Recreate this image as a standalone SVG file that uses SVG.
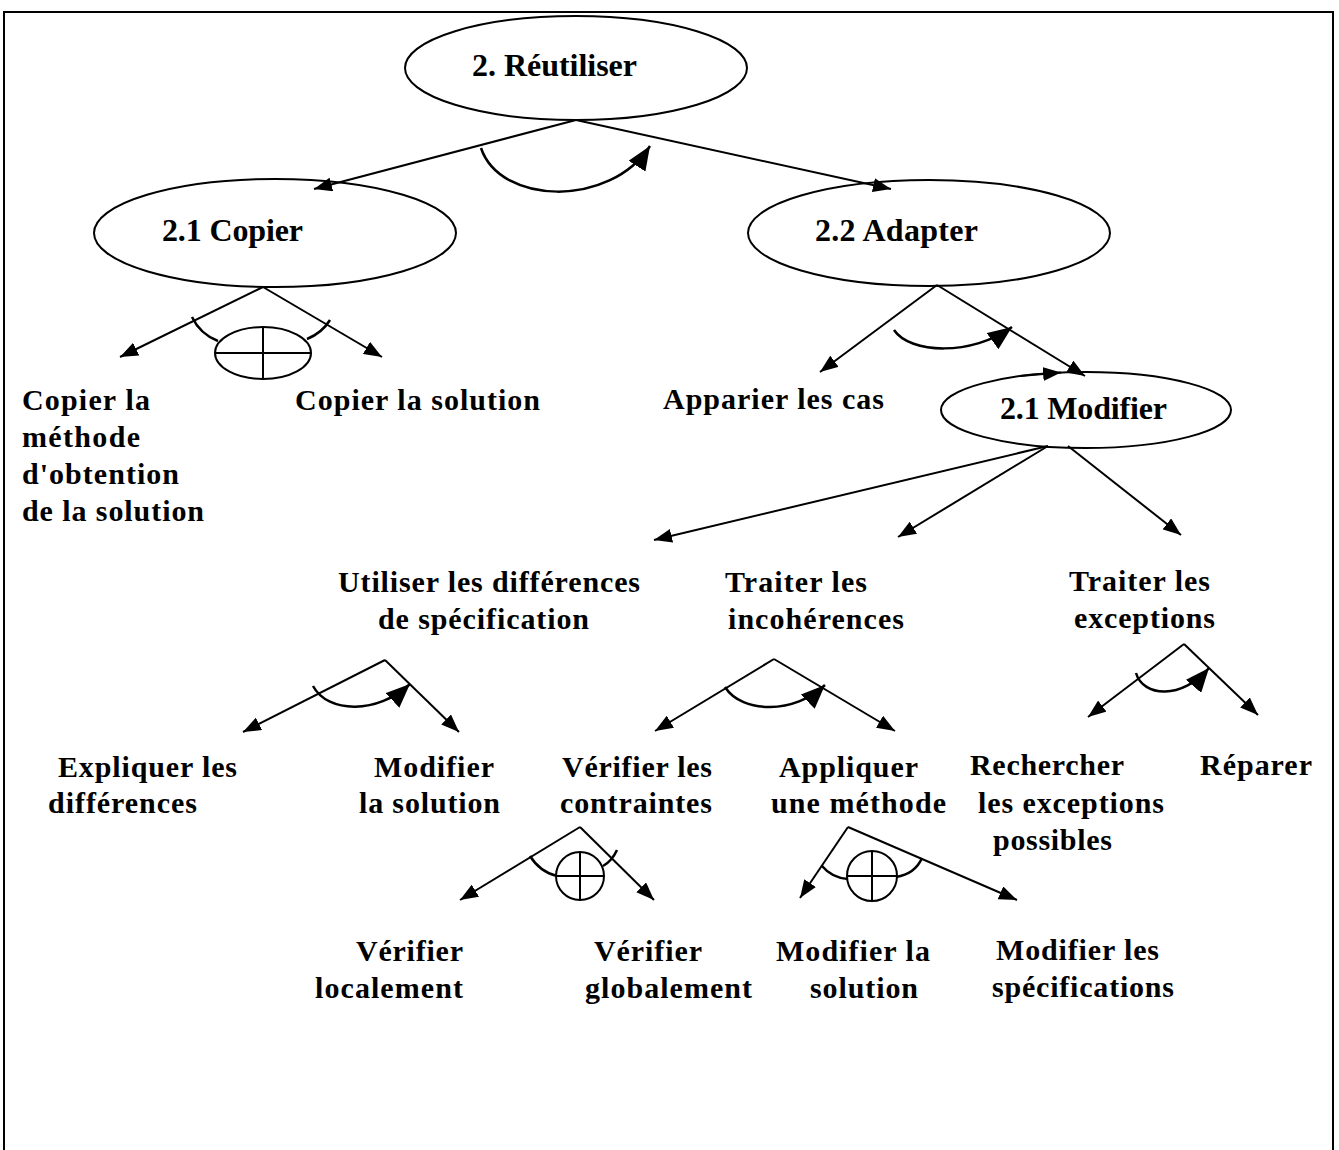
<svg xmlns="http://www.w3.org/2000/svg" width="1339" height="1150" viewBox="0 0 1339 1150">
  <style>
    .frame { fill: none; stroke: #000; stroke-width: 2; }
    .node { fill: #fff; stroke: #000; stroke-width: 2; }
    .lbl { font-family: "Liberation Serif", "Times New Roman", serif; font-weight: bold; font-size: 30px; fill: #000; }
    .big { font-size: 32px; }
    .edge { fill: none; stroke: #000; stroke-width: 2; marker-end: url(#tip); }
    .turn { fill: none; stroke: #000; stroke-width: 2.5; marker-end: url(#bigtip); }
    .arc { fill: none; stroke: #000; stroke-width: 2.5; }
    .xor { fill: #fff; stroke: #000; stroke-width: 2; }
    .xline { stroke: #000; stroke-width: 2; }
  </style>
  <defs>
    <marker id="tip" markerUnits="userSpaceOnUse" markerWidth="20" markerHeight="14" refX="18" refY="7" orient="auto">
      <path d="M0,0 L18,7 L0,14 Z" fill="#000"/>
    </marker>
    <marker id="bigtip" markerUnits="userSpaceOnUse" markerWidth="26" markerHeight="20" refX="24" refY="10" orient="auto">
      <path d="M0,0 L24,10 L0,20 Z" fill="#000"/>
    </marker>
  </defs>

  <rect width="1339" height="1150" fill="#fff"/>
  <!-- page frame (open at the bottom) -->
  <path class="frame" d="M4,1150 L4,12 L1333,12 L1333,1150"/>

  <!-- goal nodes -->
  <g id="n-reutiliser">
    <ellipse class="node" cx="576" cy="68" rx="171" ry="52"/>
    <text class="lbl big" x="472" y="76" textLength="165">2. Réutiliser</text>
  </g>
  <g id="n-copier">
    <ellipse class="node" cx="275" cy="233" rx="181" ry="54"/>
    <text class="lbl big" x="162" y="241" textLength="141">2.1 Copier</text>
  </g>
  <g id="n-adapter">
    <ellipse class="node" cx="929" cy="233" rx="181" ry="53"/>
    <text class="lbl big" x="815" y="241" textLength="163">2.2 Adapter</text>
  </g>
  <g id="n-modifier">
    <ellipse class="node" cx="1086" cy="410" rx="145" ry="38"/>
    <text class="lbl big" x="1000" y="419" textLength="167">2.1 Modifier</text>
  </g>

  <!-- connectors -->
  <g id="connectors">
    <!-- 2. Réutiliser -> 2.1 / 2.2 (sequence) -->
    <path class="edge" d="M576,120 L314,189"/>
    <path class="edge" d="M576,120 L891,189"/>
    <path class="turn" d="M481,148 C500,205 610,208 650,146"/>

    <!-- 2.1 Copier (exclusive choice) -->
    <path class="edge" d="M263,287 L120,357"/>
    <path class="edge" d="M263,287 L382,357"/>
    <path class="arc" d="M192,317 Q200,334 218,341"/>
    <path class="arc" d="M307,339 Q322,333 330,320"/>

    <!-- 2.2 Adapter (sequence) -->
    <path class="edge" d="M937,285 L820,372"/>
    <path class="edge" d="M937,285 L1085,376"/>
    <path class="turn" d="M894,330 C910,354 972,356 1012,327"/>
    <path class="edge" d="M1020,376 L1061,372.5"/>

    <!-- 2.1 Modifier -> three branches -->
    <path class="edge" d="M1048,446 L654,540"/>
    <path class="edge" d="M1048,446 L898,537"/>
    <path class="edge" d="M1068,446 L1181,535"/>

    <!-- Utiliser les différences de spécification (sequence) -->
    <path class="edge" d="M385,660 L243,732"/>
    <path class="edge" d="M385,660 L459,732"/>
    <path class="turn" d="M313,686 C328,714 378,714 410,684"/>

    <!-- Traiter les incohérences (sequence) -->
    <path class="edge" d="M774,659 L655,731"/>
    <path class="edge" d="M774,659 L895,731"/>
    <path class="turn" d="M725,687 C742,714 795,714 825,685"/>

    <!-- Traiter les exceptions (sequence) -->
    <path class="edge" d="M1184,644 L1088,717"/>
    <path class="edge" d="M1184,644 L1258,715"/>
    <path class="turn" d="M1136,673 C1143,697 1182,700 1209,668"/>

    <!-- Vérifier les contraintes (exclusive choice) -->
    <path class="edge" d="M580,827 L460,900"/>
    <path class="edge" d="M580,827 L654,900"/>
    <path class="arc" d="M530,856 Q540,872 557,876"/>
    <path class="arc" d="M603,866 Q612,861 617,850"/>

    <!-- Appliquer une méthode (exclusive choice) -->
    <path class="edge" d="M848,827 L800,898"/>
    <path class="edge" d="M848,827 L1017,900"/>
    <path class="arc" d="M822,866 Q832,878 848,879"/>
    <path class="arc" d="M896,877 Q915,874 922,858"/>
  </g>

  <!-- exclusive-choice symbols -->
  <g id="xor-copier">
    <ellipse class="xor" cx="263" cy="353" rx="48" ry="26"/>
    <line class="xline" x1="215" y1="353" x2="311" y2="353"/>
    <line class="xline" x1="263" y1="327" x2="263" y2="379"/>
  </g>
  <g id="xor-contraintes">
    <circle class="xor" cx="580" cy="876" r="24"/>
    <line class="xline" x1="556" y1="876" x2="604" y2="876"/>
    <line class="xline" x1="580" y1="852" x2="580" y2="900"/>
  </g>
  <g id="xor-methode">
    <circle class="xor" cx="872" cy="876" r="25"/>
    <line class="xline" x1="847" y1="876" x2="897" y2="876"/>
    <line class="xline" x1="872" y1="851" x2="872" y2="901"/>
  </g>

  <!-- leaf / sub-goal labels -->
  <g id="n-copier-methode">
    <text class="lbl" x="22" y="410" textLength="128">Copier la</text>
    <text class="lbl" x="22" y="447" textLength="118">méthode</text>
    <text class="lbl" x="22" y="484" textLength="157">d'obtention</text>
    <text class="lbl" x="22" y="521" textLength="182">de la solution</text>
  </g>
  <g id="n-copier-solution">
    <text class="lbl" x="295" y="410" textLength="245">Copier la solution</text>
  </g>
  <g id="n-apparier">
    <text class="lbl" x="663" y="409" textLength="221">Apparier les cas</text>
  </g>
  <g id="n-utiliser">
    <text class="lbl" x="338" y="592" textLength="302">Utiliser les différences</text>
    <text class="lbl" x="378" y="629" textLength="211">de spécification</text>
  </g>
  <g id="n-incoherences">
    <text class="lbl" x="725" y="592" textLength="142">Traiter les</text>
    <text class="lbl" x="728" y="629" textLength="176">incohérences</text>
  </g>
  <g id="n-exceptions">
    <text class="lbl" x="1069" y="591" textLength="141">Traiter les</text>
    <text class="lbl" x="1074" y="628" textLength="141">exceptions</text>
  </g>
  <g id="n-expliquer">
    <text class="lbl" x="58" y="777" textLength="179">Expliquer les</text>
    <text class="lbl" x="48" y="813" textLength="149">différences</text>
  </g>
  <g id="n-modifier-solution">
    <text class="lbl" x="374" y="777" textLength="120">Modifier</text>
    <text class="lbl" x="359" y="813" textLength="141">la solution</text>
  </g>
  <g id="n-verifier-contraintes">
    <text class="lbl" x="562" y="777" textLength="150">Vérifier les</text>
    <text class="lbl" x="560" y="813" textLength="152">contraintes</text>
  </g>
  <g id="n-appliquer">
    <text class="lbl" x="779" y="777" textLength="139">Appliquer</text>
    <text class="lbl" x="771" y="813" textLength="175">une méthode</text>
  </g>
  <g id="n-rechercher">
    <text class="lbl" x="970" y="775" textLength="154">Rechercher</text>
    <text class="lbl" x="978" y="813" textLength="186">les exceptions</text>
    <text class="lbl" x="993" y="850" textLength="119">possibles</text>
  </g>
  <g id="n-reparer">
    <text class="lbl" x="1200" y="775" textLength="112">Réparer</text>
  </g>
  <g id="n-verifier-localement">
    <text class="lbl" x="356" y="961" textLength="107">Vérifier</text>
    <text class="lbl" x="315" y="998" textLength="148">localement</text>
  </g>
  <g id="n-verifier-globalement">
    <text class="lbl" x="594" y="961" textLength="108">Vérifier</text>
    <text class="lbl" x="585" y="998" textLength="167">globalement</text>
  </g>
  <g id="n-modifier-la-solution">
    <text class="lbl" x="776" y="961" textLength="154">Modifier la</text>
    <text class="lbl" x="810" y="998" textLength="108">solution</text>
  </g>
  <g id="n-modifier-specs">
    <text class="lbl" x="996" y="960" textLength="163">Modifier les</text>
    <text class="lbl" x="992" y="997" textLength="182">spécifications</text>
  </g>
</svg>
